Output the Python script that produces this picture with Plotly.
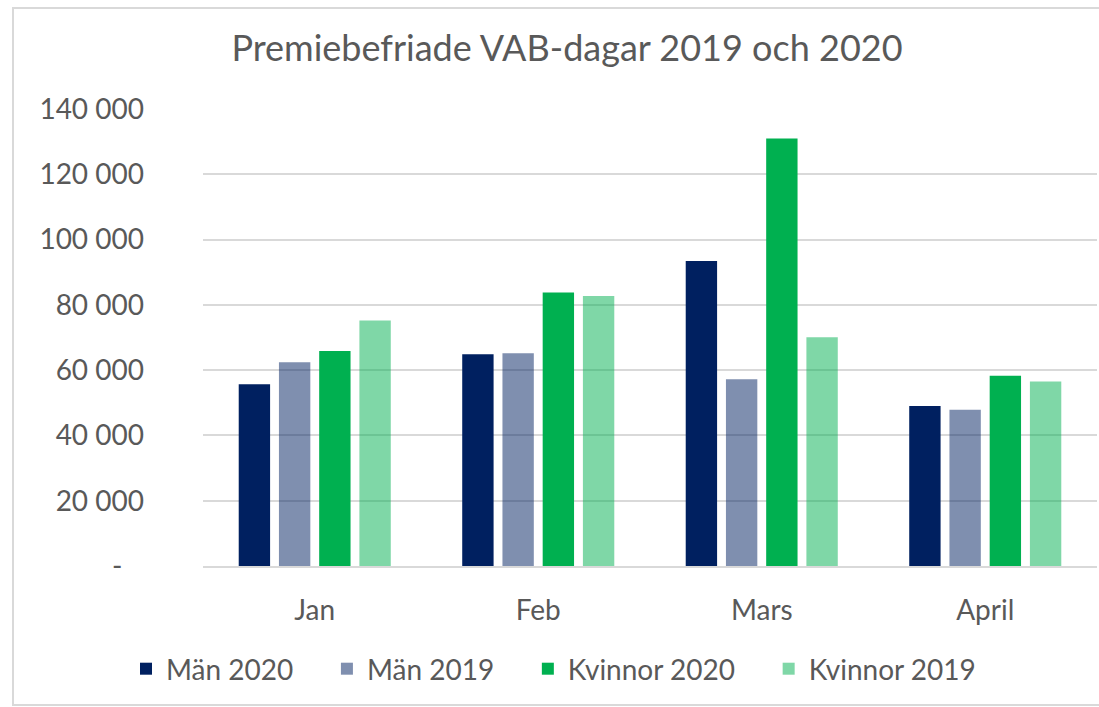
import plotly.graph_objects as go

# Premium-free VAB days per month, by sex and year
months = ["Jan", "Feb", "Mars", "April"]
man_2020 = [55700, 64900, 93400, 49000]
man_2019 = [62400, 65200, 57200, 47900]
kvinnor_2020 = [65900, 83800, 131000, 58300]
kvinnor_2019 = [75200, 82700, 70100, 56500]

y_ticks = [0, 20000, 40000, 60000, 80000, 100000, 120000, 140000]
y_tick_text = ["-\u00a0\u00a0\u00a0", "20 000", "40 000", "60 000", "80 000",
               "100 000", "120 000", "140 000"]

FONT = "Lato, Carlito, Calibri, sans-serif"
TEXT = "#595959"
GRID = "#D9D9D9"
PAD = "\u00a0\u00a0\u00a0\u00a0"  # extra room after each legend entry

series = [
    ("Män 2020", man_2020, "#002060"),
    ("Män 2019", man_2019, "rgba(0,32,96,0.5)"),
    ("Kvinnor 2020", kvinnor_2020, "#00B050"),
    ("Kvinnor 2019", kvinnor_2019, "rgba(0,176,80,0.5)"),
]

fig = go.Figure()
for name, vals, color in series:
    fig.add_trace(go.Bar(x=months, y=vals, name=name + PAD,
                         marker=dict(color=color, line=dict(width=0))))

W, H = 1099, 707
L, R, T, B = 203, 2, 109, 141
pw = W - L - R
ph = H - T - B

def px_x(p):
    return (p - L) / pw

def px_y(p):
    return (H - B - p) / ph

fig.update_layout(
    width=W, height=H,
    margin=dict(l=L, r=R, t=T, b=B),
    paper_bgcolor="white", plot_bgcolor="white",
    font=dict(family=FONT, color=TEXT, size=28),
    barmode="group", bargap=0.28, bargroupgap=0.22,
    title=dict(text="Premiebefriade VAB-dagar 2019 och 2020",
               x=567 / W, xref="container", xanchor="center",
               y=1 - 48 / H, yref="container", yanchor="middle",
               font=dict(family=FONT, size=36, color=TEXT)),
    legend=dict(orientation="h", x=px_x(568), xanchor="center",
                y=px_y(669), yanchor="middle",
                font=dict(family=FONT, size=28, color=TEXT),
                itemclick=False),
    showlegend=True,
    shapes=[dict(type="rect", xref="paper", yref="paper",
                 x0=px_x(13), x1=px_x(1110), y0=px_y(705), y1=px_y(8),
                 line=dict(color=GRID, width=2), fillcolor="rgba(0,0,0,0)",
                 layer="below")],
)

fig.update_yaxes(range=[0, 140000], tickvals=y_ticks, ticktext=y_tick_text,
                 showgrid=True, gridcolor=GRID, gridwidth=2,
                 zeroline=False, showline=False, ticks="",
                 ticklabelstandoff=58,
                 tickfont=dict(family=FONT, size=28, color=TEXT))
fig.update_xaxes(showline=True, linecolor=GRID, linewidth=2, ticks="",
                 ticklabelstandoff=18,
                 tickfont=dict(family=FONT, size=28, color=TEXT))

fig.write_html("out.html")
